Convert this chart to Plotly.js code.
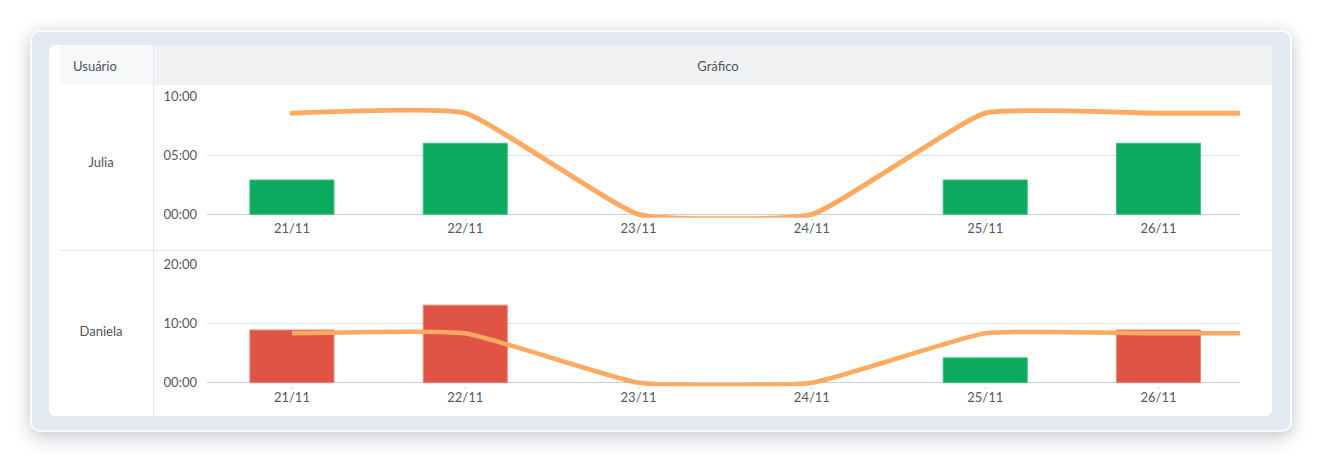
<!DOCTYPE html>
<html>
<head>
<meta charset="utf-8">
<script src="https://cdn.plot.ly/plotly-3.0.1.min.js"></script>
<style>
  html, body { margin:0; padding:0; background:#ffffff; width:1320px; height:462px; overflow:hidden; font-family: Lato, "Noto Sans", sans-serif; }
  .card { position:absolute; left:30px; top:30px; width:1262px; height:402px; box-sizing:border-box;
          background:#e2e9f1; border:2px solid #f9fbfd; border-radius:10px;
          box-shadow: 0 6px 18px rgba(40,50,70,0.22), 0 0 14px rgba(40,50,70,0.08); }
  .panel { position:absolute; left:49px; top:45px; width:1223px; height:371px; background:#fff; border-radius:6px; }
  .hcell { position:absolute; top:45px; height:40px; }
  .txt { position:absolute; font-size:13px; color:#4f545c; white-space:nowrap; line-height:16px; }
  .vline { position:absolute; left:153px; top:45px; width:1px; height:371px; background:#e2e7ed; }
  .hline { position:absolute; left:60px; top:250px; width:1212px; height:1px; background:#e2e7ed; }
  #chart { position:absolute; left:0; top:0; width:1320px; height:462px; }
</style>
</head>
<body>
<div class="card"></div>
<div class="panel"></div>
<div class="hcell" style="left:60px;width:93px;background:#f7f8fa;"></div>
<div class="hcell" style="left:153px;width:1119px;background:#f1f2f4;"></div>
<div class="vline"></div>
<div class="hline"></div>
<div class="txt" style="left:73px;top:58px;">Usuário</div>
<div class="txt" style="left:718px;top:58px;transform:translateX(-50%);">Gráfico</div>
<div class="txt" style="left:101px;top:154px;transform:translateX(-50%);">Julia</div>
<div class="txt" style="left:101px;top:323px;transform:translateX(-50%);">Daniela</div>
<div id="chart"></div>
<script>
// ---- data ----
const dates = ['21/11', '22/11', '23/11', '24/11', '25/11', '26/11'];
const users = ['Julia', 'Daniela'];
const juliaHours = [2.9, 6.0, 0, 0, 2.9, 6.0];
const danielaHours = [8.9, 13.1, 0, 0, 4.2, 8.9];
const juliaTarget = [8.55, 8.55, 0, 0, 8.55, 8.55, 8.55];
const danielaTarget = [8.35, 8.35, 0, 0, 8.35, 8.35, 8.35];
const targetX = [0, 1, 2, 3, 4, 5, 5.47];   // line continues past the last day
const juliaTicks = [0, 5, 10];
const juliaTickText = ['00:00', '05:00', '10:00'];
const danielaTicks = [0, 10, 20];
const danielaTickText = ['00:00', '10:00', '20:00'];

// ---- styles ----
const GREEN = '#0caa5e', GREEN_EDGE = '#3fc083';
const RED = '#df5444', RED_EDGE = '#ef8676';
const ORANGE = '#ffaa60';
const AXIS = '#c6d0dc';
const dayIdx = dates.map((d, i) => i);

function barColors(vals, target) { return vals.map(v => v > target ? RED : GREEN); }
function barEdges(vals, target) { return vals.map(v => v > target ? RED_EDGE : GREEN_EDGE); }
function edgeWidths(vals) { return vals.map(v => v > 0 ? 1 : 0); }

const traces = [
  { type:'bar', x: dayIdx, y: juliaHours, width: 0.485, xaxis:'x', yaxis:'y',
    marker:{ color: barColors(juliaHours, juliaTarget[0]),
             line:{ color: barEdges(juliaHours, juliaTarget[0]), width: edgeWidths(juliaHours) } },
    hoverinfo:'skip', name: users[0] },
  { type:'scatter', mode:'lines', x: targetX, y: juliaTarget, xaxis:'x', yaxis:'y',
    line:{ color: ORANGE, width:5, shape:'spline', smoothing:0.4 }, hoverinfo:'skip' },
  { type:'bar', x: dayIdx, y: danielaHours, width: 0.485, xaxis:'x2', yaxis:'y2',
    marker:{ color: barColors(danielaHours, danielaTarget[0]),
             line:{ color: barEdges(danielaHours, danielaTarget[0]), width: edgeWidths(danielaHours) } },
    hoverinfo:'skip', name: users[1] },
  { type:'scatter', mode:'lines', x: targetX, y: danielaTarget, xaxis:'x2', yaxis:'y2',
    line:{ color: ORANGE, width:4.5, shape:'spline', smoothing:0.4 }, hoverinfo:'skip' }
];

const W = 1320, H = 462;
const xDom = [207 / W, 1240 / W];
const tickFont = { family:'Lato, "Noto Sans", sans-serif', size:13, color:'#555a62' };
const xBase = {
  domain: xDom, range: [-0.49, 5.47], tickmode:'array', tickvals: dayIdx, ticktext: dates,
  showgrid:false, zeroline:false, showline:false,
  ticks:'outside', ticklen:2, tickcolor: AXIS, tickfont: tickFont, ticklabelstandoff: -3, fixedrange:true
};
const yBase = {
  showgrid:true, gridcolor:'#d8e0e8', gridwidth:1, zeroline:true, zerolinecolor: AXIS, zerolinewidth:1,
  showline:false, tickfont: tickFont, tickmode:'array', ticklabelstandoff: 9, fixedrange:true
};

// pixel rows of each subplot: value 0 and the top tick
const p1 = { zero: 214.3, top: 96, topVal: 10, pad: 3.5 };
const p2 = { zero: 382.7, top: 264.3, topVal: 20, pad: 3.5 };
function yDomain(p) {
  const per = (p.zero - p.top) / p.topVal;
  return { domain: [(H - p.zero - p.pad) / H, (H - p.top) / H], range: [-p.pad / per, p.topVal] };
}
const d1 = yDomain(p1), d2 = yDomain(p2);

const layout = {
  width: W, height: H,
  margin: { l:0, r:0, t:0, b:0 },
  paper_bgcolor:'rgba(0,0,0,0)', plot_bgcolor:'rgba(0,0,0,0)',
  showlegend:false, barmode:'overlay',
  xaxis: Object.assign({}, xBase, { anchor:'y' }),
  xaxis2: Object.assign({}, xBase, { anchor:'y2' }),
  yaxis: Object.assign({}, yBase, { domain: d1.domain, range: d1.range,
           tickvals: juliaTicks, ticktext: juliaTickText, anchor:'x' }),
  yaxis2: Object.assign({}, yBase, { domain: d2.domain, range: d2.range,
           tickvals: danielaTicks, ticktext: danielaTickText, anchor:'x2' })
};

Plotly.newPlot('chart', traces, layout, { displayModeBar:false, staticPlot:true }).then(gd => {
  // round line caps for the first target line, as in the reference
  const paths = gd.querySelectorAll('.scatterlayer .trace path.js-line');
  if (paths[0]) paths[0].style.strokeLinecap = 'round';
});
</script>
</body>
</html>
